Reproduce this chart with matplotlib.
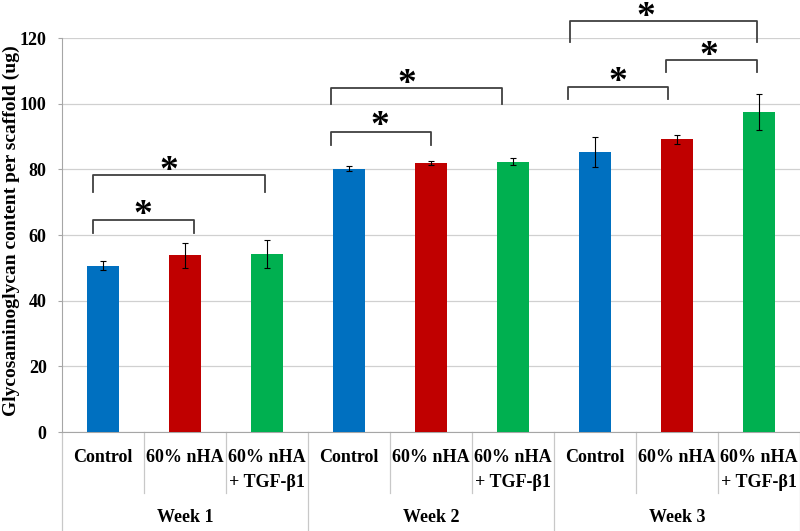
import matplotlib.pyplot as plt
import numpy as np

weeks = ['Week 1', 'Week 2', 'Week 3']
groups = ['Control', '60% nHA', '60% nHA\n+ TGF-β1']
colors = ['#0070C0', '#C00000', '#00B050']

# mean and error per group, one list per week
means = [[50.6, 53.8, 54.3],
         [80.2, 81.8, 82.3],
         [85.3, 89.1, 97.5]]
errs = [[1.4, 3.7, 4.2],
        [0.7, 0.6, 1.1],
        [4.6, 1.4, 5.4]]

# significance brackets: x start, x end, top y, leg bottom y, star x, star y
brackets = [(-0.12, 1.11, 64.5, 60.6, 0.49, 68.5),
            (-0.12, 1.98, 78.2, 73.2, 0.80, 82.0),
            (2.78, 4.00, 91.3, 87.4, 3.38, 95.5),
            (2.78, 4.87, 104.8, 99.9, 3.71, 108.5),
            (5.67, 6.89, 105.0, 101.3, 6.28, 109.0),
            (6.87, 7.97, 113.3, 109.7, 7.39, 117.0),
            (5.70, 7.97, 125.3, 118.9, 6.62, 128.8)]

plt.rcParams['font.family'] = ['Liberation Serif', 'DejaVu Serif']
plt.rcParams['font.weight'] = 'bold'

fig = plt.figure(figsize=(8, 5.31), dpi=100)
ax = fig.add_axes([0.0775, 0.1864, 0.9225, 0.742])

vals = np.array(means).ravel()
err = np.array(errs).ravel()
cols = colors * len(weeks)
x = np.arange(len(vals))
ax.bar(x, vals, width=0.4, color=cols, zorder=3)
ax.errorbar(x, vals, yerr=err, fmt='none', ecolor='black', elinewidth=0.8,
            capsize=2.5, capthick=0.8, zorder=4)

ax.set_xlim(-0.5, len(vals) - 0.5)
ax.set_ylim(0, 120)
ax.set_yticks(np.arange(0, 121, 20))
ax.tick_params(axis='y', labelsize=13, length=3, color='#A6A6A6', width=0.8, pad=8)
ax.yaxis.grid(True, color='#D0D0D0', linewidth=0.9, zorder=0)
ax.set_xticks([])
for s in ['top', 'right']:
    ax.spines[s].set_visible(False)
ax.spines['left'].set_color('#A6A6A6')
ax.spines['bottom'].set_color('#A6A6A6')
ax.set_ylabel('Glycosaminoglycan content per scaffold (ug)', fontsize=14,
              fontweight='bold')
ax.yaxis.set_label_coords(-0.0575, 0.51)

tr = ax.get_xaxis_transform()
# category labels and separators
for i in range(len(vals)):
    lines = groups[i % 3].split('\n')
    for j, ln in enumerate(lines):
        ax.text(i, -0.0635 - 0.064 * j, ln, transform=tr, ha='center', va='center',
                fontsize=13, fontweight='bold')
for k in range(len(vals) + 1):
    xb = k - 0.5
    y1 = -0.251 if k % 3 == 0 else -0.155
    ax.plot([xb, xb], [0, y1], transform=tr, color='#C8C8C8', lw=0.9, clip_on=False)
for w, name in enumerate(weeks):
    ax.text(3 * w + 1, -0.218, name, transform=tr, ha='center', va='center',
            fontsize=13, fontweight='bold')

# significance brackets
for x0, x1, yt, yb, sx, sy in brackets:
    ax.plot([x0, x0, x1, x1], [yb, yt, yt, yb], color='#404040', lw=1.3,
            clip_on=False, zorder=5)
    ax.text(sx, sy - 2.6, '*', ha='center', va='center', fontsize=27,
            fontweight='bold', clip_on=False)

fig.savefig('out.png', dpi=100)
